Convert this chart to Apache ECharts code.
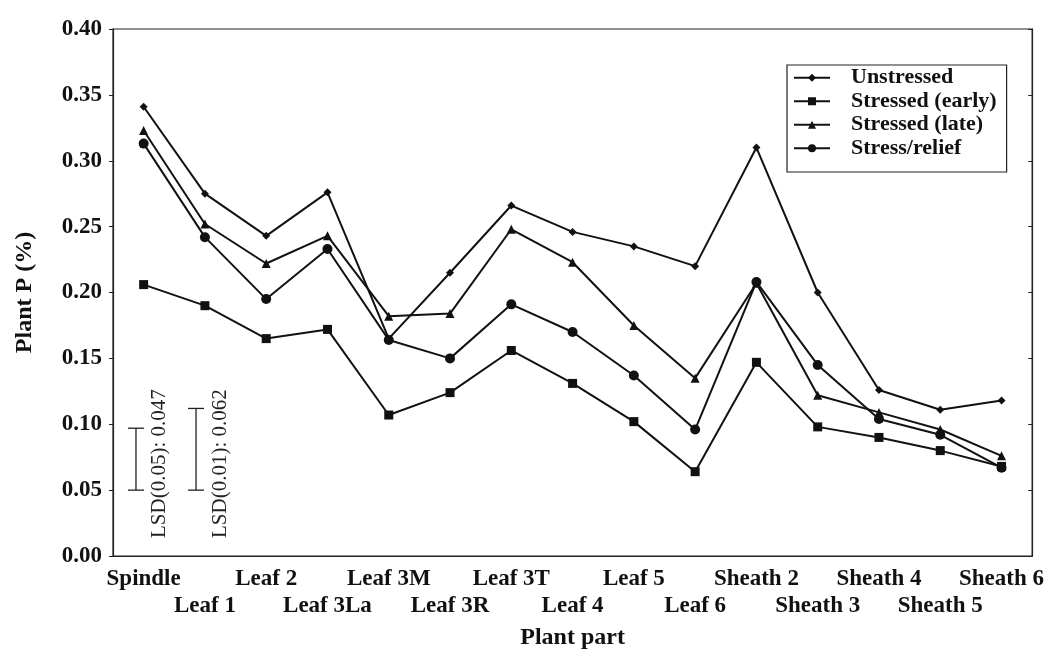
<!DOCTYPE html>
<html>
<head>
<meta charset="utf-8">
<script src="https://cdn.jsdelivr.net/npm/echarts@6/dist/echarts.min.js"></script>
<style>html,body{margin:0;padding:0;background:#fff}#c{width:1047px;height:660px}</style>
</head>
<body>
<div id="c"></div>
<script>
var categories = ['Spindle','Leaf 1','Leaf 2','Leaf 3La','Leaf 3M','Leaf 3R','Leaf 3T','Leaf 4','Leaf 5','Leaf 6','Sheath 2','Sheath 3','Sheath 4','Sheath 5','Sheath 6'];
var unstressed    = [0.341,0.275,0.243,0.276,0.165,0.215,0.266,0.246,0.235,0.220,0.310,0.200,0.126,0.111,0.118];
var stressedEarly = [0.206,0.190,0.165,0.172,0.107,0.124,0.156,0.131,0.102,0.064,0.147,0.098,0.090,0.080,0.068];
var stressedLate  = [0.323,0.252,0.222,0.243,0.182,0.184,0.248,0.223,0.175,0.135,0.207,0.122,0.109,0.096,0.076];
var stressRelief  = [0.313,0.242,0.195,0.233,0.164,0.150,0.191,0.170,0.137,0.096,0.208,0.145,0.104,0.092,0.067];
var yTicks = [0,0.05,0.10,0.15,0.20,0.25,0.30,0.35,0.40];
// LSD bars: position along category index, lower and upper value
var lsdPos   = [-0.125, 0.855];
var lsdLow   = [0.050, 0.050];
var lsdHigh  = [0.097, 0.112];
var lsdLabel = ['LSD(0.05): 0.047', 'LSD(0.01): 0.062'];

var serif = '"Liberation Serif", "DejaVu Serif", serif';
var chart = echarts.init(document.getElementById('c'));

function lineSeries(name, data, symbol, size) {
  return {
    name: name, type: 'line', data: data, xAxisIndex: 0, yAxisIndex: 0,
    symbol: symbol, symbolSize: size, showSymbol: true,
    lineStyle: {color: '#111', width: 2},
    itemStyle: {color: '#111'},
    emphasis: {disabled: true}, animation: false
  };
}

var lsdData = lsdPos.map(function (p, i) { return [p, lsdLow[i], lsdHigh[i], i]; });

chart.setOption({
  animation: false,
  backgroundColor: '#fff',
  grid: {left: 113, right: 14, top: 29, bottom: 104, show: true, borderColor: '#222', borderWidth: 1.2},
  legend: {
    orient: 'vertical', left: 787, top: 65,
    backgroundColor: '#fff',
    borderColor: '#222', borderWidth: 1.2,
    padding: [1, 10, 12, 6],
    itemGap: 0, itemWidth: 36, itemHeight: 10,
    textStyle: {fontFamily: serif, fontWeight: 'bold', fontSize: 22, lineHeight: 23.5, color: '#111', padding: [0, 0, 0, 16]},
    data: ['Unstressed', 'Stressed (early)', 'Stressed (late)', 'Stress/relief']
  },
  xAxis: [{
    type: 'category', data: categories, boundaryGap: true,
    axisLine: {lineStyle: {color: '#222', width: 1.2}},
    axisTick: {inside: true, length: 4, alignWithLabel: true, lineStyle: {color: '#222'}},
    axisLabel: {
      interval: 0, color: '#111', fontFamily: serif, fontWeight: 'bold', fontSize: 23,
      margin: 10, lineHeight: 27,
      formatter: function (v, i) { return i % 2 ? '\n' + v : v; }
    },
    name: 'Plant part', nameLocation: 'middle', nameGap: 70,
    nameTextStyle: {fontFamily: serif, fontWeight: 'bold', fontSize: 24, color: '#111'}
  }, {
    type: 'value', min: -0.5, max: 14.5, show: false, position: 'bottom'
  }],
  yAxis: [{
    type: 'value', min: 0, max: 0.40, interval: 0.05,
    splitLine: {show: false},
    axisLine: {show: true, onZero: false, lineStyle: {color: '#222', width: 1.2}},
    axisTick: {show: true, inside: false, length: 4, lineStyle: {color: '#222'}},
    axisLabel: {color: '#111', fontFamily: serif, fontWeight: 'bold', fontSize: 23, margin: 11,
      padding: [0, 0, 10, 0],
      formatter: function (v) { return v.toFixed(2); }},
    name: 'Plant P (%)', nameLocation: 'middle', nameGap: 76, nameRotate: 90,
    nameTextStyle: {fontFamily: serif, fontWeight: 'bold', fontSize: 24, color: '#111'}
  }, {
    type: 'value', min: 0, max: 0.40, interval: 0.05, position: 'right',
    splitLine: {show: false},
    axisLine: {show: true, onZero: false, lineStyle: {color: '#222', width: 1.2}},
    axisTick: {show: true, inside: true, length: 4, lineStyle: {color: '#222'}},
    axisLabel: {show: false}
  }],
  series: [
    lineSeries('Unstressed', unstressed, 'diamond', 8),
    lineSeries('Stressed (early)', stressedEarly, 'rect', 9),
    lineSeries('Stressed (late)', stressedLate, 'triangle', 9),
    lineSeries('Stress/relief', stressRelief, 'circle', 10),
    {
      type: 'custom', xAxisIndex: 1, yAxisIndex: 0, data: lsdData, silent: true,
      renderItem: function (params, api) {
        var x = api.value(0);
        var lo = api.coord([x, api.value(1)]);
        var hi = api.coord([x, api.value(2)]);
        var base = api.coord([x, 0]);
        var idx = api.value(3);
        var cap = 8;
        var st = {stroke: '#222', lineWidth: 1.3};
        return {
          type: 'group',
          children: [
            {type: 'line', shape: {x1: lo[0], y1: lo[1], x2: hi[0], y2: hi[1]}, style: st},
            {type: 'line', shape: {x1: lo[0] - cap, y1: lo[1], x2: lo[0] + cap, y2: lo[1]}, style: st},
            {type: 'line', shape: {x1: hi[0] - cap, y1: hi[1], x2: hi[0] + cap, y2: hi[1]}, style: st},
            {type: 'text', x: lo[0] + 24, y: base[1] - 18, rotation: Math.PI / 2,
              style: {text: lsdLabel[idx], fontFamily: serif, fontSize: 21, fill: '#222',
                align: 'left', verticalAlign: 'middle'}}
          ]
        };
      }
    }
  ]
});
</script>
</body>
</html>
